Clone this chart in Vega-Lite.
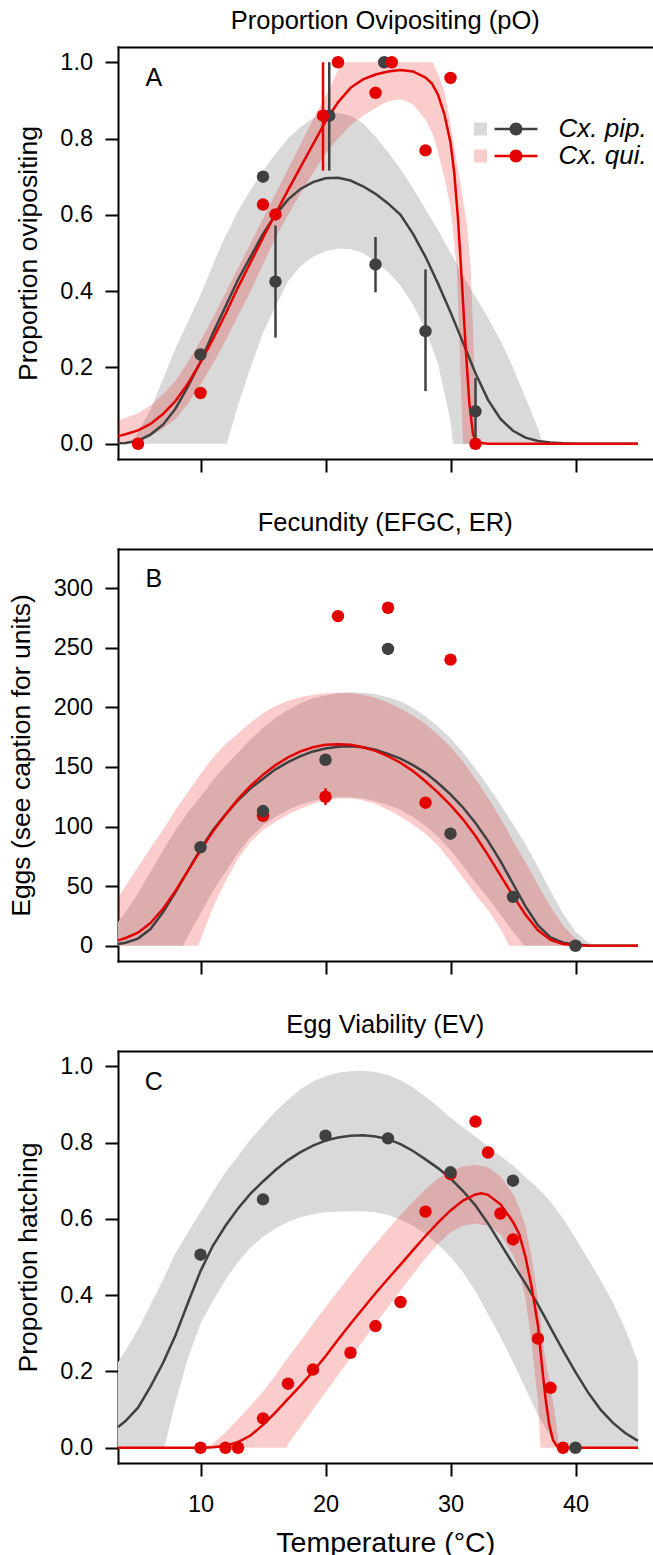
{
"$schema": "https://vega.github.io/schema/vega-lite/v6.json",
"background": "white",
"padding": {"left": 8, "top": 8, "right": 0, "bottom": 0},
"spacing": 37,
"config": {
  "font": "Liberation Sans",
  "view": {"stroke": null},
  "axis": {"grid": false, "domainColor": "black", "domainWidth": 2, "domainCap": "square", "tickColor": "black", "tickWidth": 2, "tickSize": 13, "labelFont": "Liberation Sans", "labelFontSize": 23.5, "labelColor": "black", "labelFlush": false, "labelOverlap": false, "titleFont": "Liberation Sans", "titleFontWeight": "normal", "titleColor": "black"},
  "title": {"font": "Liberation Sans", "fontSize": 25.5, "fontWeight": "normal", "color": "black", "offset": 13, "anchor": "middle"},
  "legend": {"labelFont": "Liberation Sans"}
},
"resolve": {"scale": {"x": "independent", "y": "independent", "color": "independent", "fill": "independent"}},
"datasets": {
"bandA": [
{"s":"Cx. pip.","t":4.5,"lo":0,"hi":0},{"s":"Cx. pip.","t":5,"lo":0,"hi":0.03},{"s":"Cx. pip.","t":6,"lo":0,"hi":0.09},{"s":"Cx. pip.","t":7,"lo":0,"hi":0.17},{"s":"Cx. pip.","t":8,"lo":0,"hi":0.25},{"s":"Cx. pip.","t":9,"lo":0,"hi":0.32},{"s":"Cx. pip.","t":10,"lo":0,"hi":0.39},{"s":"Cx. pip.","t":11,"lo":0,"hi":0.47},{"s":"Cx. pip.","t":12,"lo":0,"hi":0.545},{"s":"Cx. pip.","t":12.1,"lo":0,"hi":0.55},{"s":"Cx. pip.","t":13,"lo":0.1,"hi":0.61},{"s":"Cx. pip.","t":14,"lo":0.2,"hi":0.665},{"s":"Cx. pip.","t":15,"lo":0.29,"hi":0.715},{"s":"Cx. pip.","t":16,"lo":0.36,"hi":0.76},{"s":"Cx. pip.","t":17,"lo":0.425,"hi":0.8},{"s":"Cx. pip.","t":18,"lo":0.465,"hi":0.83},{"s":"Cx. pip.","t":19,"lo":0.49,"hi":0.853},{"s":"Cx. pip.","t":20,"lo":0.505,"hi":0.865},{"s":"Cx. pip.","t":21,"lo":0.512,"hi":0.867},{"s":"Cx. pip.","t":22,"lo":0.51,"hi":0.86},{"s":"Cx. pip.","t":23,"lo":0.5,"hi":0.84},{"s":"Cx. pip.","t":24,"lo":0.478,"hi":0.805},{"s":"Cx. pip.","t":25,"lo":0.45,"hi":0.765},{"s":"Cx. pip.","t":26,"lo":0.415,"hi":0.72},{"s":"Cx. pip.","t":27,"lo":0.365,"hi":0.67},{"s":"Cx. pip.","t":28,"lo":0.3,"hi":0.615},{"s":"Cx. pip.","t":29,"lo":0.21,"hi":0.56},{"s":"Cx. pip.","t":30,"lo":0.06,"hi":0.5},{"s":"Cx. pip.","t":30.2,"lo":0,"hi":0.49},{"s":"Cx. pip.","t":31,"lo":0,"hi":0.44},{"s":"Cx. pip.","t":32,"lo":0,"hi":0.385},{"s":"Cx. pip.","t":33,"lo":0,"hi":0.33},{"s":"Cx. pip.","t":34,"lo":0,"hi":0.27},{"s":"Cx. pip.","t":35,"lo":0,"hi":0.2},{"s":"Cx. pip.","t":36,"lo":0,"hi":0.12},{"s":"Cx. pip.","t":37,"lo":0,"hi":0.04},{"s":"Cx. pip.","t":37.4,"lo":0,"hi":0},
{"s":"Cx. qui.","t":3.4,"lo":0,"hi":0.06},{"s":"Cx. qui.","t":5,"lo":0.005,"hi":0.08},{"s":"Cx. qui.","t":6,"lo":0.02,"hi":0.1},{"s":"Cx. qui.","t":7,"lo":0.04,"hi":0.13},{"s":"Cx. qui.","t":8,"lo":0.065,"hi":0.165},{"s":"Cx. qui.","t":9,"lo":0.105,"hi":0.215},{"s":"Cx. qui.","t":10,"lo":0.155,"hi":0.27},{"s":"Cx. qui.","t":11,"lo":0.21,"hi":0.33},{"s":"Cx. qui.","t":12,"lo":0.27,"hi":0.395},{"s":"Cx. qui.","t":13,"lo":0.335,"hi":0.46},{"s":"Cx. qui.","t":14,"lo":0.4,"hi":0.525},{"s":"Cx. qui.","t":15,"lo":0.47,"hi":0.59},{"s":"Cx. qui.","t":16,"lo":0.54,"hi":0.655},{"s":"Cx. qui.","t":17,"lo":0.6,"hi":0.72},{"s":"Cx. qui.","t":18,"lo":0.655,"hi":0.785},{"s":"Cx. qui.","t":19,"lo":0.71,"hi":0.85},{"s":"Cx. qui.","t":20,"lo":0.76,"hi":0.91},{"s":"Cx. qui.","t":21,"lo":0.8,"hi":0.98},{"s":"Cx. qui.","t":21.3,"lo":0.81,"hi":1},{"s":"Cx. qui.","t":22,"lo":0.835,"hi":1},{"s":"Cx. qui.","t":23,"lo":0.86,"hi":1},{"s":"Cx. qui.","t":24,"lo":0.88,"hi":1},{"s":"Cx. qui.","t":25,"lo":0.898,"hi":1},{"s":"Cx. qui.","t":26,"lo":0.903,"hi":1},{"s":"Cx. qui.","t":27,"lo":0.89,"hi":1},{"s":"Cx. qui.","t":28,"lo":0.85,"hi":1},{"s":"Cx. qui.","t":28.6,"lo":0.81,"hi":1},{"s":"Cx. qui.","t":29,"lo":0.765,"hi":0.97},{"s":"Cx. qui.","t":29.5,"lo":0.7,"hi":0.925},{"s":"Cx. qui.","t":30,"lo":0.62,"hi":0.84},{"s":"Cx. qui.","t":30.5,"lo":0.46,"hi":0.74},{"s":"Cx. qui.","t":31,"lo":0,"hi":0.64},{"s":"Cx. qui.","t":31.3,"lo":0,"hi":0.58},{"s":"Cx. qui.","t":31.6,"lo":0,"hi":0.47},{"s":"Cx. qui.","t":31.8,"lo":0,"hi":0.3},{"s":"Cx. qui.","t":32,"lo":0,"hi":0.05},{"s":"Cx. qui.","t":32.1,"lo":0,"hi":0}
],
"lineA": [
{"s":"Cx. pip.","t":3.4,"v":0.001},{"s":"Cx. pip.","t":4,"v":0.002},{"s":"Cx. pip.","t":5,"v":0.008},{"s":"Cx. pip.","t":6,"v":0.024},{"s":"Cx. pip.","t":7,"v":0.05},{"s":"Cx. pip.","t":8,"v":0.092},{"s":"Cx. pip.","t":9,"v":0.15},{"s":"Cx. pip.","t":10,"v":0.215},{"s":"Cx. pip.","t":11,"v":0.29},{"s":"Cx. pip.","t":12,"v":0.36},{"s":"Cx. pip.","t":13,"v":0.43},{"s":"Cx. pip.","t":14,"v":0.49},{"s":"Cx. pip.","t":15,"v":0.55},{"s":"Cx. pip.","t":16,"v":0.6},{"s":"Cx. pip.","t":17,"v":0.64},{"s":"Cx. pip.","t":18,"v":0.668},{"s":"Cx. pip.","t":19,"v":0.686},{"s":"Cx. pip.","t":20,"v":0.696},{"s":"Cx. pip.","t":21,"v":0.697},{"s":"Cx. pip.","t":22,"v":0.69},{"s":"Cx. pip.","t":23,"v":0.675},{"s":"Cx. pip.","t":24,"v":0.655},{"s":"Cx. pip.","t":25,"v":0.63},{"s":"Cx. pip.","t":26,"v":0.6},{"s":"Cx. pip.","t":27,"v":0.55},{"s":"Cx. pip.","t":28,"v":0.49},{"s":"Cx. pip.","t":29,"v":0.42},{"s":"Cx. pip.","t":30,"v":0.345},{"s":"Cx. pip.","t":31,"v":0.265},{"s":"Cx. pip.","t":32,"v":0.185},{"s":"Cx. pip.","t":33,"v":0.115},{"s":"Cx. pip.","t":34,"v":0.065},{"s":"Cx. pip.","t":35,"v":0.034},{"s":"Cx. pip.","t":36,"v":0.016},{"s":"Cx. pip.","t":37,"v":0.007},{"s":"Cx. pip.","t":38,"v":0.003},{"s":"Cx. pip.","t":39,"v":0.001},{"s":"Cx. pip.","t":40,"v":0},{"s":"Cx. pip.","t":45,"v":0},
{"s":"Cx. qui.","t":3.4,"v":0.02},{"s":"Cx. qui.","t":4,"v":0.025},{"s":"Cx. qui.","t":5,"v":0.035},{"s":"Cx. qui.","t":6,"v":0.052},{"s":"Cx. qui.","t":7,"v":0.078},{"s":"Cx. qui.","t":8,"v":0.112},{"s":"Cx. qui.","t":9,"v":0.158},{"s":"Cx. qui.","t":10,"v":0.213},{"s":"Cx. qui.","t":11,"v":0.275},{"s":"Cx. qui.","t":12,"v":0.34},{"s":"Cx. qui.","t":13,"v":0.41},{"s":"Cx. qui.","t":14,"v":0.475},{"s":"Cx. qui.","t":15,"v":0.54},{"s":"Cx. qui.","t":16,"v":0.603},{"s":"Cx. qui.","t":17,"v":0.665},{"s":"Cx. qui.","t":18,"v":0.725},{"s":"Cx. qui.","t":19,"v":0.785},{"s":"Cx. qui.","t":20,"v":0.845},{"s":"Cx. qui.","t":21,"v":0.895},{"s":"Cx. qui.","t":22,"v":0.933},{"s":"Cx. qui.","t":23,"v":0.955},{"s":"Cx. qui.","t":24,"v":0.968},{"s":"Cx. qui.","t":25,"v":0.976},{"s":"Cx. qui.","t":26,"v":0.98},{"s":"Cx. qui.","t":27,"v":0.976},{"s":"Cx. qui.","t":28,"v":0.96},{"s":"Cx. qui.","t":28.5,"v":0.945},{"s":"Cx. qui.","t":29,"v":0.915},{"s":"Cx. qui.","t":29.5,"v":0.865},{"s":"Cx. qui.","t":30,"v":0.79},{"s":"Cx. qui.","t":30.3,"v":0.71},{"s":"Cx. qui.","t":30.6,"v":0.59},{"s":"Cx. qui.","t":30.9,"v":0.43},{"s":"Cx. qui.","t":31.2,"v":0.26},{"s":"Cx. qui.","t":31.5,"v":0.11},{"s":"Cx. qui.","t":31.8,"v":0.025},{"s":"Cx. qui.","t":32.1,"v":0.003},{"s":"Cx. qui.","t":33,"v":0},{"s":"Cx. qui.","t":45,"v":0}
],
"ptsA": [
{"s":"Cx. pip.","t":10,"v":0.234},{"s":"Cx. pip.","t":15,"v":0.70},{"s":"Cx. pip.","t":16,"v":0.425},{"s":"Cx. pip.","t":20.3,"v":0.86},{"s":"Cx. pip.","t":24,"v":0.47},{"s":"Cx. pip.","t":24.7,"v":1.0},{"s":"Cx. pip.","t":28,"v":0.295},{"s":"Cx. pip.","t":32,"v":0.085},
{"s":"Cx. qui.","t":5,"v":0},{"s":"Cx. qui.","t":10,"v":0.133},{"s":"Cx. qui.","t":15,"v":0.627},{"s":"Cx. qui.","t":16,"v":0.601},{"s":"Cx. qui.","t":19.8,"v":0.86},{"s":"Cx. qui.","t":21,"v":1.0},{"s":"Cx. qui.","t":24,"v":0.92},{"s":"Cx. qui.","t":25.3,"v":1.0},{"s":"Cx. qui.","t":28,"v":0.769},{"s":"Cx. qui.","t":30,"v":0.959},{"s":"Cx. qui.","t":32,"v":0}
],
"barsA": [
{"s":"Cx. pip.","t":16,"lo":0.278,"hi":0.572},{"s":"Cx. pip.","t":20.3,"lo":0.716,"hi":1.0},{"s":"Cx. pip.","t":24,"lo":0.397,"hi":0.542},{"s":"Cx. pip.","t":28,"lo":0.138,"hi":0.457},{"s":"Cx. pip.","t":32,"lo":0,"hi":0.173},
{"s":"Cx. qui.","t":19.8,"lo":0.716,"hi":1.0}
],
"bandB": [
{"s":"Cx. pip.","t":3.4,"lo":0,"hi":20},{"s":"Cx. pip.","t":4,"lo":0,"hi":28},{"s":"Cx. pip.","t":5,"lo":0,"hi":44},{"s":"Cx. pip.","t":6,"lo":0,"hi":62},{"s":"Cx. pip.","t":7,"lo":0,"hi":80},{"s":"Cx. pip.","t":8,"lo":0,"hi":97},{"s":"Cx. pip.","t":8.6,"lo":0,"hi":106},{"s":"Cx. pip.","t":9,"lo":8,"hi":112},{"s":"Cx. pip.","t":10,"lo":27,"hi":125},{"s":"Cx. pip.","t":11,"lo":46,"hi":139},{"s":"Cx. pip.","t":12,"lo":62,"hi":151},{"s":"Cx. pip.","t":13,"lo":78,"hi":162},{"s":"Cx. pip.","t":14,"lo":91,"hi":173},{"s":"Cx. pip.","t":15,"lo":101,"hi":183},{"s":"Cx. pip.","t":16,"lo":108,"hi":191},{"s":"Cx. pip.","t":17,"lo":114,"hi":198},{"s":"Cx. pip.","t":18,"lo":118.5,"hi":203.5},{"s":"Cx. pip.","t":19,"lo":121.5,"hi":207.5},{"s":"Cx. pip.","t":20,"lo":123.5,"hi":210},{"s":"Cx. pip.","t":21,"lo":124.5,"hi":211.8},{"s":"Cx. pip.","t":22,"lo":124.5,"hi":212.7},{"s":"Cx. pip.","t":23,"lo":123.5,"hi":212.3},{"s":"Cx. pip.","t":24,"lo":121,"hi":211},{"s":"Cx. pip.","t":25,"lo":118,"hi":208.5},{"s":"Cx. pip.","t":26,"lo":114,"hi":205},{"s":"Cx. pip.","t":27,"lo":108,"hi":199.5},{"s":"Cx. pip.","t":28,"lo":100.5,"hi":192.5},{"s":"Cx. pip.","t":29,"lo":91.5,"hi":184},{"s":"Cx. pip.","t":30,"lo":80,"hi":174},{"s":"Cx. pip.","t":31,"lo":67,"hi":162},{"s":"Cx. pip.","t":32,"lo":53,"hi":148.5},{"s":"Cx. pip.","t":33,"lo":40,"hi":134},{"s":"Cx. pip.","t":34,"lo":26,"hi":118.5},{"s":"Cx. pip.","t":35,"lo":12,"hi":102},{"s":"Cx. pip.","t":35.9,"lo":0,"hi":87},{"s":"Cx. pip.","t":37,"lo":0,"hi":66},{"s":"Cx. pip.","t":38,"lo":0,"hi":46},{"s":"Cx. pip.","t":39,"lo":0,"hi":27},{"s":"Cx. pip.","t":40,"lo":0,"hi":12},{"s":"Cx. pip.","t":41,"lo":0,"hi":3},{"s":"Cx. pip.","t":41.6,"lo":0,"hi":0},
{"s":"Cx. qui.","t":3.4,"lo":0,"hi":40.6},{"s":"Cx. qui.","t":4,"lo":0,"hi":50},{"s":"Cx. qui.","t":5,"lo":0,"hi":66},{"s":"Cx. qui.","t":6,"lo":0,"hi":82},{"s":"Cx. qui.","t":7,"lo":0,"hi":97},{"s":"Cx. qui.","t":8,"lo":0,"hi":114},{"s":"Cx. qui.","t":9,"lo":0,"hi":129},{"s":"Cx. qui.","t":9.8,"lo":0,"hi":141},{"s":"Cx. qui.","t":10,"lo":5,"hi":144},{"s":"Cx. qui.","t":11,"lo":32,"hi":158},{"s":"Cx. qui.","t":12,"lo":54,"hi":169},{"s":"Cx. qui.","t":13,"lo":73,"hi":178},{"s":"Cx. qui.","t":14,"lo":87,"hi":187},{"s":"Cx. qui.","t":15,"lo":97,"hi":195},{"s":"Cx. qui.","t":16,"lo":104,"hi":201},{"s":"Cx. qui.","t":17,"lo":110,"hi":205.5},{"s":"Cx. qui.","t":18,"lo":115,"hi":208.5},{"s":"Cx. qui.","t":19,"lo":119,"hi":210.5},{"s":"Cx. qui.","t":20,"lo":122,"hi":211.8},{"s":"Cx. qui.","t":21,"lo":123.5,"hi":212.3},{"s":"Cx. qui.","t":22,"lo":123.5,"hi":212},{"s":"Cx. qui.","t":23,"lo":122,"hi":210.5},{"s":"Cx. qui.","t":24,"lo":119,"hi":208},{"s":"Cx. qui.","t":25,"lo":114,"hi":204},{"s":"Cx. qui.","t":26,"lo":108.5,"hi":199},{"s":"Cx. qui.","t":27,"lo":101.5,"hi":193},{"s":"Cx. qui.","t":28,"lo":94,"hi":186},{"s":"Cx. qui.","t":29,"lo":84,"hi":177},{"s":"Cx. qui.","t":30,"lo":71,"hi":167},{"s":"Cx. qui.","t":31,"lo":57,"hi":154.5},{"s":"Cx. qui.","t":32,"lo":43,"hi":140},{"s":"Cx. qui.","t":33,"lo":30,"hi":124},{"s":"Cx. qui.","t":34,"lo":14,"hi":107},{"s":"Cx. qui.","t":34.7,"lo":0,"hi":94},{"s":"Cx. qui.","t":35,"lo":0,"hi":88},{"s":"Cx. qui.","t":36,"lo":0,"hi":70},{"s":"Cx. qui.","t":37,"lo":0,"hi":51},{"s":"Cx. qui.","t":38,"lo":0,"hi":33},{"s":"Cx. qui.","t":39,"lo":0,"hi":17},{"s":"Cx. qui.","t":40,"lo":0,"hi":6},{"s":"Cx. qui.","t":40.8,"lo":0,"hi":0}
],
"lineB": [
{"s":"Cx. pip.","t":3.4,"v":1.4},{"s":"Cx. pip.","t":4,"v":2.5},{"s":"Cx. pip.","t":5,"v":6},{"s":"Cx. pip.","t":6,"v":14},{"s":"Cx. pip.","t":7,"v":28},{"s":"Cx. pip.","t":8,"v":45},{"s":"Cx. pip.","t":9,"v":63},{"s":"Cx. pip.","t":10,"v":81},{"s":"Cx. pip.","t":11,"v":97},{"s":"Cx. pip.","t":12,"v":110},{"s":"Cx. pip.","t":13,"v":122},{"s":"Cx. pip.","t":14,"v":132},{"s":"Cx. pip.","t":15,"v":140},{"s":"Cx. pip.","t":16,"v":148},{"s":"Cx. pip.","t":17,"v":154},{"s":"Cx. pip.","t":18,"v":159},{"s":"Cx. pip.","t":19,"v":163},{"s":"Cx. pip.","t":20,"v":165.5},{"s":"Cx. pip.","t":21,"v":167},{"s":"Cx. pip.","t":22,"v":167.3},{"s":"Cx. pip.","t":23,"v":166.5},{"s":"Cx. pip.","t":24,"v":164.5},{"s":"Cx. pip.","t":25,"v":161},{"s":"Cx. pip.","t":26,"v":157},{"s":"Cx. pip.","t":27,"v":151.5},{"s":"Cx. pip.","t":28,"v":145},{"s":"Cx. pip.","t":29,"v":136.5},{"s":"Cx. pip.","t":30,"v":127},{"s":"Cx. pip.","t":31,"v":116},{"s":"Cx. pip.","t":32,"v":103},{"s":"Cx. pip.","t":33,"v":88},{"s":"Cx. pip.","t":34,"v":71},{"s":"Cx. pip.","t":35,"v":52},{"s":"Cx. pip.","t":36,"v":33},{"s":"Cx. pip.","t":37,"v":17},{"s":"Cx. pip.","t":38,"v":7},{"s":"Cx. pip.","t":39,"v":2.5},{"s":"Cx. pip.","t":40,"v":1},{"s":"Cx. pip.","t":41,"v":0.3},{"s":"Cx. pip.","t":42,"v":0},{"s":"Cx. pip.","t":45,"v":0},
{"s":"Cx. qui.","t":3.4,"v":4.5},{"s":"Cx. qui.","t":4,"v":6.5},{"s":"Cx. qui.","t":5,"v":11},{"s":"Cx. qui.","t":6,"v":19},{"s":"Cx. qui.","t":7,"v":31},{"s":"Cx. qui.","t":8,"v":46},{"s":"Cx. qui.","t":9,"v":63},{"s":"Cx. qui.","t":10,"v":80},{"s":"Cx. qui.","t":11,"v":96},{"s":"Cx. qui.","t":12,"v":110},{"s":"Cx. qui.","t":13,"v":123},{"s":"Cx. qui.","t":14,"v":134},{"s":"Cx. qui.","t":15,"v":143.5},{"s":"Cx. qui.","t":16,"v":151.5},{"s":"Cx. qui.","t":17,"v":158},{"s":"Cx. qui.","t":18,"v":163},{"s":"Cx. qui.","t":19,"v":166.5},{"s":"Cx. qui.","t":20,"v":168.5},{"s":"Cx. qui.","t":21,"v":169},{"s":"Cx. qui.","t":22,"v":168.5},{"s":"Cx. qui.","t":23,"v":166.5},{"s":"Cx. qui.","t":24,"v":163.5},{"s":"Cx. qui.","t":25,"v":159},{"s":"Cx. qui.","t":26,"v":153.5},{"s":"Cx. qui.","t":27,"v":146.5},{"s":"Cx. qui.","t":28,"v":138},{"s":"Cx. qui.","t":29,"v":128.5},{"s":"Cx. qui.","t":30,"v":118},{"s":"Cx. qui.","t":31,"v":106},{"s":"Cx. qui.","t":32,"v":92},{"s":"Cx. qui.","t":33,"v":76},{"s":"Cx. qui.","t":34,"v":59},{"s":"Cx. qui.","t":35,"v":42},{"s":"Cx. qui.","t":36,"v":26},{"s":"Cx. qui.","t":37,"v":13},{"s":"Cx. qui.","t":38,"v":5},{"s":"Cx. qui.","t":39,"v":1.5},{"s":"Cx. qui.","t":40,"v":0.4},{"s":"Cx. qui.","t":41,"v":0},{"s":"Cx. qui.","t":45,"v":0}
],
"ptsB": [
{"s":"Cx. qui.","t":15,"v":109},{"s":"Cx. qui.","t":20,"v":125},{"s":"Cx. qui.","t":21,"v":276.5},{"s":"Cx. qui.","t":25,"v":283.5},{"s":"Cx. qui.","t":28,"v":120},{"s":"Cx. qui.","t":30,"v":240},
{"s":"Cx. pip.","t":10,"v":82.6},{"s":"Cx. pip.","t":15,"v":113},{"s":"Cx. pip.","t":20,"v":156},{"s":"Cx. pip.","t":25,"v":249},{"s":"Cx. pip.","t":30,"v":94},{"s":"Cx. pip.","t":35,"v":41},{"s":"Cx. pip.","t":40,"v":0}
],
"barsB": [
{"s":"Cx. qui.","t":20,"lo":118,"hi":132},{"s":"Cx. qui.","t":28,"lo":116,"hi":124}
],
"bandC": [
{"s":"Cx. pip.","t":3.4,"lo":0,"hi":0.224},{"s":"Cx. pip.","t":4,"lo":0,"hi":0.255},{"s":"Cx. pip.","t":5,"lo":0,"hi":0.31},{"s":"Cx. pip.","t":6,"lo":0,"hi":0.375},{"s":"Cx. pip.","t":7,"lo":0,"hi":0.44},{"s":"Cx. pip.","t":7.1,"lo":0,"hi":0.447},{"s":"Cx. pip.","t":8,"lo":0.12,"hi":0.51},{"s":"Cx. pip.","t":9,"lo":0.235,"hi":0.565},{"s":"Cx. pip.","t":10,"lo":0.325,"hi":0.618},{"s":"Cx. pip.","t":11,"lo":0.385,"hi":0.672},{"s":"Cx. pip.","t":12,"lo":0.44,"hi":0.722},{"s":"Cx. pip.","t":13,"lo":0.487,"hi":0.765},{"s":"Cx. pip.","t":14,"lo":0.525,"hi":0.808},{"s":"Cx. pip.","t":15,"lo":0.553,"hi":0.845},{"s":"Cx. pip.","t":16,"lo":0.575,"hi":0.882},{"s":"Cx. pip.","t":17,"lo":0.592,"hi":0.912},{"s":"Cx. pip.","t":18,"lo":0.604,"hi":0.94},{"s":"Cx. pip.","t":19,"lo":0.612,"hi":0.96},{"s":"Cx. pip.","t":20,"lo":0.617,"hi":0.974},{"s":"Cx. pip.","t":21,"lo":0.619,"hi":0.983},{"s":"Cx. pip.","t":22,"lo":0.62,"hi":0.987},{"s":"Cx. pip.","t":23,"lo":0.62,"hi":0.988},{"s":"Cx. pip.","t":24,"lo":0.617,"hi":0.985},{"s":"Cx. pip.","t":25,"lo":0.61,"hi":0.977},{"s":"Cx. pip.","t":26,"lo":0.598,"hi":0.963},{"s":"Cx. pip.","t":27,"lo":0.582,"hi":0.944},{"s":"Cx. pip.","t":28,"lo":0.56,"hi":0.92},{"s":"Cx. pip.","t":29,"lo":0.533,"hi":0.894},{"s":"Cx. pip.","t":30,"lo":0.5,"hi":0.865},{"s":"Cx. pip.","t":31,"lo":0.46,"hi":0.84},{"s":"Cx. pip.","t":32,"lo":0.41,"hi":0.815},{"s":"Cx. pip.","t":33,"lo":0.35,"hi":0.79},{"s":"Cx. pip.","t":34,"lo":0.29,"hi":0.765},{"s":"Cx. pip.","t":35,"lo":0.225,"hi":0.74},{"s":"Cx. pip.","t":36,"lo":0.155,"hi":0.71},{"s":"Cx. pip.","t":37,"lo":0.085,"hi":0.68},{"s":"Cx. pip.","t":38,"lo":0.03,"hi":0.645},{"s":"Cx. pip.","t":38.7,"lo":0,"hi":0.615},{"s":"Cx. pip.","t":39,"lo":0,"hi":0.6},{"s":"Cx. pip.","t":40,"lo":0,"hi":0.55},{"s":"Cx. pip.","t":41,"lo":0,"hi":0.495},{"s":"Cx. pip.","t":42,"lo":0,"hi":0.44},{"s":"Cx. pip.","t":43,"lo":0,"hi":0.38},{"s":"Cx. pip.","t":44,"lo":0,"hi":0.31},{"s":"Cx. pip.","t":45,"lo":0,"hi":0.224},
{"s":"Cx. qui.","t":10.3,"lo":0,"hi":0},{"s":"Cx. qui.","t":11,"lo":0,"hi":0.012},{"s":"Cx. qui.","t":12,"lo":0,"hi":0.04},{"s":"Cx. qui.","t":13,"lo":0,"hi":0.075},{"s":"Cx. qui.","t":14,"lo":0,"hi":0.11},{"s":"Cx. qui.","t":15,"lo":0,"hi":0.147},{"s":"Cx. qui.","t":16,"lo":0,"hi":0.19},{"s":"Cx. qui.","t":16.9,"lo":0,"hi":0.232},{"s":"Cx. qui.","t":17,"lo":0.01,"hi":0.237},{"s":"Cx. qui.","t":18,"lo":0.055,"hi":0.28},{"s":"Cx. qui.","t":19,"lo":0.1,"hi":0.325},{"s":"Cx. qui.","t":20,"lo":0.145,"hi":0.368},{"s":"Cx. qui.","t":21,"lo":0.19,"hi":0.411},{"s":"Cx. qui.","t":22,"lo":0.235,"hi":0.453},{"s":"Cx. qui.","t":23,"lo":0.28,"hi":0.495},{"s":"Cx. qui.","t":24,"lo":0.325,"hi":0.535},{"s":"Cx. qui.","t":25,"lo":0.368,"hi":0.573},{"s":"Cx. qui.","t":26,"lo":0.412,"hi":0.61},{"s":"Cx. qui.","t":27,"lo":0.455,"hi":0.645},{"s":"Cx. qui.","t":28,"lo":0.497,"hi":0.678},{"s":"Cx. qui.","t":29,"lo":0.535,"hi":0.705},{"s":"Cx. qui.","t":30,"lo":0.565,"hi":0.726},{"s":"Cx. qui.","t":31,"lo":0.582,"hi":0.738},{"s":"Cx. qui.","t":32,"lo":0.588,"hi":0.742},{"s":"Cx. qui.","t":33,"lo":0.582,"hi":0.736},{"s":"Cx. qui.","t":34,"lo":0.56,"hi":0.712},{"s":"Cx. qui.","t":35,"lo":0.505,"hi":0.665},{"s":"Cx. qui.","t":35.5,"lo":0.465,"hi":0.63},{"s":"Cx. qui.","t":36,"lo":0.39,"hi":0.58},{"s":"Cx. qui.","t":36.5,"lo":0.27,"hi":0.5},{"s":"Cx. qui.","t":37,"lo":0.12,"hi":0.39},{"s":"Cx. qui.","t":37.2,"lo":0,"hi":0.335},{"s":"Cx. qui.","t":37.5,"lo":0,"hi":0.25},{"s":"Cx. qui.","t":38,"lo":0,"hi":0.16},{"s":"Cx. qui.","t":38.3,"lo":0,"hi":0.1},{"s":"Cx. qui.","t":38.5,"lo":0,"hi":0.05},{"s":"Cx. qui.","t":38.7,"lo":0,"hi":0}
],
"lineC": [
{"s":"Cx. pip.","t":3.4,"v":0.054},{"s":"Cx. pip.","t":4,"v":0.07},{"s":"Cx. pip.","t":5,"v":0.105},{"s":"Cx. pip.","t":6,"v":0.16},{"s":"Cx. pip.","t":7,"v":0.222},{"s":"Cx. pip.","t":8,"v":0.295},{"s":"Cx. pip.","t":9,"v":0.38},{"s":"Cx. pip.","t":10,"v":0.463},{"s":"Cx. pip.","t":11,"v":0.53},{"s":"Cx. pip.","t":12,"v":0.582},{"s":"Cx. pip.","t":13,"v":0.627},{"s":"Cx. pip.","t":14,"v":0.666},{"s":"Cx. pip.","t":15,"v":0.698},{"s":"Cx. pip.","t":16,"v":0.728},{"s":"Cx. pip.","t":17,"v":0.754},{"s":"Cx. pip.","t":18,"v":0.775},{"s":"Cx. pip.","t":19,"v":0.792},{"s":"Cx. pip.","t":20,"v":0.805},{"s":"Cx. pip.","t":21,"v":0.813},{"s":"Cx. pip.","t":22,"v":0.818},{"s":"Cx. pip.","t":23,"v":0.819},{"s":"Cx. pip.","t":24,"v":0.816},{"s":"Cx. pip.","t":25,"v":0.809},{"s":"Cx. pip.","t":26,"v":0.796},{"s":"Cx. pip.","t":27,"v":0.778},{"s":"Cx. pip.","t":28,"v":0.756},{"s":"Cx. pip.","t":29,"v":0.733},{"s":"Cx. pip.","t":30,"v":0.706},{"s":"Cx. pip.","t":31,"v":0.673},{"s":"Cx. pip.","t":32,"v":0.635},{"s":"Cx. pip.","t":33,"v":0.588},{"s":"Cx. pip.","t":34,"v":0.535},{"s":"Cx. pip.","t":35,"v":0.482},{"s":"Cx. pip.","t":36,"v":0.43},{"s":"Cx. pip.","t":37,"v":0.375},{"s":"Cx. pip.","t":38,"v":0.315},{"s":"Cx. pip.","t":39,"v":0.255},{"s":"Cx. pip.","t":40,"v":0.198},{"s":"Cx. pip.","t":41,"v":0.145},{"s":"Cx. pip.","t":42,"v":0.1},{"s":"Cx. pip.","t":43,"v":0.065},{"s":"Cx. pip.","t":44,"v":0.038},{"s":"Cx. pip.","t":45,"v":0.018},
{"s":"Cx. qui.","t":3.4,"v":0},{"s":"Cx. qui.","t":10,"v":0},{"s":"Cx. qui.","t":11,"v":0.001},{"s":"Cx. qui.","t":12,"v":0.005},{"s":"Cx. qui.","t":13,"v":0.015},{"s":"Cx. qui.","t":14,"v":0.032},{"s":"Cx. qui.","t":15,"v":0.06},{"s":"Cx. qui.","t":16,"v":0.093},{"s":"Cx. qui.","t":17,"v":0.128},{"s":"Cx. qui.","t":18,"v":0.163},{"s":"Cx. qui.","t":19,"v":0.2},{"s":"Cx. qui.","t":20,"v":0.24},{"s":"Cx. qui.","t":21,"v":0.283},{"s":"Cx. qui.","t":22,"v":0.325},{"s":"Cx. qui.","t":23,"v":0.365},{"s":"Cx. qui.","t":24,"v":0.405},{"s":"Cx. qui.","t":25,"v":0.443},{"s":"Cx. qui.","t":26,"v":0.48},{"s":"Cx. qui.","t":27,"v":0.518},{"s":"Cx. qui.","t":28,"v":0.555},{"s":"Cx. qui.","t":29,"v":0.59},{"s":"Cx. qui.","t":30,"v":0.622},{"s":"Cx. qui.","t":31,"v":0.648},{"s":"Cx. qui.","t":32,"v":0.664},{"s":"Cx. qui.","t":32.5,"v":0.667},{"s":"Cx. qui.","t":33,"v":0.663},{"s":"Cx. qui.","t":34,"v":0.638},{"s":"Cx. qui.","t":35,"v":0.592},{"s":"Cx. qui.","t":35.5,"v":0.56},{"s":"Cx. qui.","t":36,"v":0.5},{"s":"Cx. qui.","t":36.5,"v":0.42},{"s":"Cx. qui.","t":37,"v":0.32},{"s":"Cx. qui.","t":37.3,"v":0.22},{"s":"Cx. qui.","t":37.6,"v":0.13},{"s":"Cx. qui.","t":37.9,"v":0.06},{"s":"Cx. qui.","t":38.2,"v":0.02},{"s":"Cx. qui.","t":38.5,"v":0.005},{"s":"Cx. qui.","t":39,"v":0},{"s":"Cx. qui.","t":45,"v":0}
],
"ptsC": [
{"s":"Cx. qui.","t":10,"v":0},{"s":"Cx. qui.","t":12,"v":0},{"s":"Cx. qui.","t":13,"v":0},{"s":"Cx. qui.","t":15,"v":0.077},{"s":"Cx. qui.","t":17,"v":0.168},{"s":"Cx. qui.","t":19,"v":0.205},{"s":"Cx. qui.","t":22,"v":0.249},{"s":"Cx. qui.","t":24,"v":0.319},{"s":"Cx. qui.","t":26,"v":0.382},{"s":"Cx. qui.","t":28,"v":0.619},{"s":"Cx. qui.","t":30,"v":0.717},{"s":"Cx. qui.","t":32,"v":0.855},{"s":"Cx. qui.","t":33,"v":0.774},{"s":"Cx. qui.","t":34,"v":0.614},{"s":"Cx. qui.","t":35,"v":0.546},{"s":"Cx. qui.","t":37,"v":0.286},{"s":"Cx. qui.","t":38,"v":0.157},{"s":"Cx. qui.","t":39,"v":0},
{"s":"Cx. pip.","t":10,"v":0.506},{"s":"Cx. pip.","t":15,"v":0.651},{"s":"Cx. pip.","t":20,"v":0.818},{"s":"Cx. pip.","t":25,"v":0.811},{"s":"Cx. pip.","t":30,"v":0.722},{"s":"Cx. pip.","t":35,"v":0.70},{"s":"Cx. pip.","t":40,"v":0}
]
},
"vconcat": [
{
  "title": {"text": "Proportion Ovipositing (pO)"},
  "width": 534.5, "height": 412,
  "resolve": {"axis": {"x": "independent"}},
  "layer": [
    {"data": {"name": "bandA"}, "transform": [{"filter": "datum.s === 'Cx. pip.'"}], "mark": {"type": "area"},
     "encoding": {
       "x": {"field": "t", "type": "quantitative", "scale": {"domain": [3.4, 46.16], "nice": false, "zero": false}, "axis": {"orient": "bottom", "values": [10,20,30,40], "labels": false, "title": null}},
       "y": {"field": "lo", "type": "quantitative", "stack": null, "scale": {"domain": [-0.04, 1.04], "nice": false, "zero": false}, "axis": {"values": [0,0.2,0.4,0.6,0.8,1], "format": ".1f", "labelPadding": 12.5, "title": "Proportion ovipositing", "titleFontSize": 26.5, "titleX": -75.8, "titleBaseline": "bottom"}},
       "y2": {"field": "hi"},
       "fill": {"field": "s", "type": "nominal", "scale": {"range": ["#d9d9d9", "rgba(232,0,0,0.2)"]},
                "legend": {"orient": "none", "legendX": 349.5, "legendY": 69, "title": null, "symbolType": "square", "symbolSize": 169, "symbolStrokeWidth": 0, "labelFontSize": 26, "labelExpr": "''", "rowPadding": 1, "padding": 0}}
     }},
    {"data": {"name": "bandA"}, "transform": [{"filter": "datum.s === 'Cx. qui.'"}], "mark": {"type": "area"},
     "encoding": {
       "x": {"field": "t", "type": "quantitative", "axis": null},
       "y": {"field": "lo", "type": "quantitative", "stack": null},
       "y2": {"field": "hi"},
       "fill": {"field": "s", "type": "nominal"}
     }},
    {"data": {"name": "lineA"}, "transform": [{"filter": "datum.s === 'Cx. pip.'"}], "mark": {"type": "line", "color": "#404040", "strokeWidth": 2.5},
     "encoding": {
       "x": {"field": "t", "type": "quantitative", "axis": {"orient": "top", "ticks": false, "labels": false, "title": null}},
       "y": {"field": "v", "type": "quantitative"}
     }},
    {"data": {"name": "lineA"}, "transform": [{"filter": "datum.s === 'Cx. qui.'"}], "mark": {"type": "line", "color": "#e50000", "strokeWidth": 2.5},
     "encoding": {
       "x": {"field": "t", "type": "quantitative", "axis": null},
       "y": {"field": "v", "type": "quantitative"}
     }},
    {"data": {"name": "barsA"}, "mark": {"type": "rule", "strokeWidth": 2.5},
     "encoding": {
       "x": {"field": "t", "type": "quantitative", "axis": null},
       "y": {"field": "lo", "type": "quantitative"},
       "y2": {"field": "hi"},
       "color": {"field": "s", "type": "nominal"}
     }},
    {"data": {"name": "ptsA"}, "mark": {"type": "point", "filled": true, "size": 155, "opacity": 1},
     "encoding": {
       "x": {"field": "t", "type": "quantitative", "axis": null},
       "y": {"field": "v", "type": "quantitative"},
       "color": {"field": "s", "type": "nominal", "scale": {"range": ["#404040", "#e50000"]},
                 "legend": {"orient": "none", "legendX": 385, "legendY": 69, "title": null, "symbolType": "M-3.3,-0.2L3.3,-0.2L3.3,0.2L-3.3,0.2ZM1,0A1,1,0,1,1,-1,0A1,1,0,1,1,1,0Z", "symbolSize": 169, "symbolStrokeWidth": 0, "labelFontSize": 26, "labelFontStyle": "italic", "labelColor": "black", "labelOffset": 29.5, "rowPadding": 1, "padding": 0}}
     }},
    {"data": {"values": [{}]}, "mark": {"type": "text", "text": "A", "fontSize": 25, "align": "center", "baseline": "middle", "color": "black"},
     "encoding": {"x": {"datum": 6.27, "type": "quantitative", "axis": null}, "y": {"datum": 0.9587, "type": "quantitative"}}}
  ]
},
{
  "title": {"text": "Fecundity (EFGC, ER)"},
  "width": 534.5, "height": 412,
  "resolve": {"axis": {"x": "independent"}},
  "layer": [
    {"data": {"name": "bandB"}, "transform": [{"filter": "datum.s === 'Cx. pip.'"}], "mark": {"type": "area"},
     "encoding": {
       "x": {"field": "t", "type": "quantitative", "scale": {"domain": [3.4, 46.16], "nice": false, "zero": false}, "axis": {"orient": "bottom", "values": [10,20,30,40], "labels": false, "title": null}},
       "y": {"field": "lo", "type": "quantitative", "stack": null, "scale": {"domain": [-12.8, 332.8], "nice": false, "zero": false}, "axis": {"values": [0,50,100,150,200,250,300], "format": "d", "labelPadding": 12.5, "title": "Eggs (see caption for units)", "titleFontSize": 26.5, "titleX": -82.1, "titleBaseline": "bottom"}},
       "y2": {"field": "hi"},
       "fill": {"field": "s", "type": "nominal", "scale": {"domain": ["Cx. pip.", "Cx. qui."], "range": ["#d9d9d9", "rgba(232,0,0,0.2)"]}, "legend": null}
     }},
    {"data": {"name": "bandB"}, "transform": [{"filter": "datum.s === 'Cx. qui.'"}], "mark": {"type": "area"},
     "encoding": {
       "x": {"field": "t", "type": "quantitative", "axis": null},
       "y": {"field": "lo", "type": "quantitative", "stack": null},
       "y2": {"field": "hi"},
       "fill": {"field": "s", "type": "nominal", "legend": null}
     }},
    {"data": {"name": "lineB"}, "transform": [{"filter": "datum.s === 'Cx. pip.'"}], "mark": {"type": "line", "color": "#404040", "strokeWidth": 2.5},
     "encoding": {
       "x": {"field": "t", "type": "quantitative", "axis": {"orient": "top", "ticks": false, "labels": false, "title": null}},
       "y": {"field": "v", "type": "quantitative"}
     }},
    {"data": {"name": "lineB"}, "transform": [{"filter": "datum.s === 'Cx. qui.'"}], "mark": {"type": "line", "color": "#e50000", "strokeWidth": 2.5},
     "encoding": {
       "x": {"field": "t", "type": "quantitative", "axis": null},
       "y": {"field": "v", "type": "quantitative"}
     }},
    {"data": {"name": "barsB"}, "mark": {"type": "rule", "strokeWidth": 2.5},
     "encoding": {
       "x": {"field": "t", "type": "quantitative", "axis": null},
       "y": {"field": "lo", "type": "quantitative"},
       "y2": {"field": "hi"},
       "color": {"field": "s", "type": "nominal", "legend": null}
     }},
    {"data": {"name": "ptsB"}, "mark": {"type": "point", "filled": true, "size": 155, "opacity": 1},
     "encoding": {
       "x": {"field": "t", "type": "quantitative", "axis": null},
       "y": {"field": "v", "type": "quantitative"},
       "color": {"field": "s", "type": "nominal", "scale": {"domain": ["Cx. pip.", "Cx. qui."], "range": ["#404040", "#e50000"]}, "legend": null}
     }},
    {"data": {"values": [{}]}, "mark": {"type": "text", "text": "B", "fontSize": 25, "align": "center", "baseline": "middle", "color": "black"},
     "encoding": {"x": {"datum": 6.27, "type": "quantitative", "axis": null}, "y": {"datum": 307.6, "type": "quantitative"}}}
  ]
},
{
  "title": {"text": "Egg Viability (EV)"},
  "width": 534.5, "height": 412,
  "resolve": {"axis": {"x": "independent"}},
  "layer": [
    {"data": {"name": "bandC"}, "transform": [{"filter": "datum.s === 'Cx. pip.'"}], "mark": {"type": "area"},
     "encoding": {
       "x": {"field": "t", "type": "quantitative", "scale": {"domain": [3.4, 46.16], "nice": false, "zero": false}, "axis": {"orient": "bottom", "values": [10,20,30,40], "format": "d", "labelPadding": 16, "title": "Temperature (°C)", "titleFontSize": 28.5, "titleY": 65, "titleBaseline": "top"}},
       "y": {"field": "lo", "type": "quantitative", "stack": null, "scale": {"domain": [-0.04, 1.04], "nice": false, "zero": false}, "axis": {"values": [0,0.2,0.4,0.6,0.8,1], "format": ".1f", "labelPadding": 12.5, "title": "Proportion hatching", "titleFontSize": 26.5, "titleX": -75.8, "titleBaseline": "bottom"}},
       "y2": {"field": "hi"},
       "fill": {"field": "s", "type": "nominal", "scale": {"domain": ["Cx. pip.", "Cx. qui."], "range": ["#d9d9d9", "rgba(232,0,0,0.2)"]}, "legend": null}
     }},
    {"data": {"name": "bandC"}, "transform": [{"filter": "datum.s === 'Cx. qui.'"}], "mark": {"type": "area"},
     "encoding": {
       "x": {"field": "t", "type": "quantitative", "axis": null},
       "y": {"field": "lo", "type": "quantitative", "stack": null},
       "y2": {"field": "hi"},
       "fill": {"field": "s", "type": "nominal", "legend": null}
     }},
    {"data": {"name": "lineC"}, "transform": [{"filter": "datum.s === 'Cx. pip.'"}], "mark": {"type": "line", "color": "#404040", "strokeWidth": 2.5},
     "encoding": {
       "x": {"field": "t", "type": "quantitative", "axis": {"orient": "top", "ticks": false, "labels": false, "title": null}},
       "y": {"field": "v", "type": "quantitative"}
     }},
    {"data": {"name": "lineC"}, "transform": [{"filter": "datum.s === 'Cx. qui.'"}], "mark": {"type": "line", "color": "#e50000", "strokeWidth": 2.5},
     "encoding": {
       "x": {"field": "t", "type": "quantitative", "axis": null},
       "y": {"field": "v", "type": "quantitative"}
     }},
    {"data": {"name": "ptsC"}, "mark": {"type": "point", "filled": true, "size": 155, "opacity": 1},
     "encoding": {
       "x": {"field": "t", "type": "quantitative", "axis": null},
       "y": {"field": "v", "type": "quantitative"},
       "color": {"field": "s", "type": "nominal", "scale": {"domain": ["Cx. pip.", "Cx. qui."], "range": ["#404040", "#e50000"]}, "legend": null}
     }},
    {"data": {"values": [{}]}, "mark": {"type": "text", "text": "C", "fontSize": 25, "align": "center", "baseline": "middle", "color": "black"},
     "encoding": {"x": {"datum": 6.27, "type": "quantitative", "axis": null}, "y": {"datum": 0.9597, "type": "quantitative"}}}
  ]
}
]
}
